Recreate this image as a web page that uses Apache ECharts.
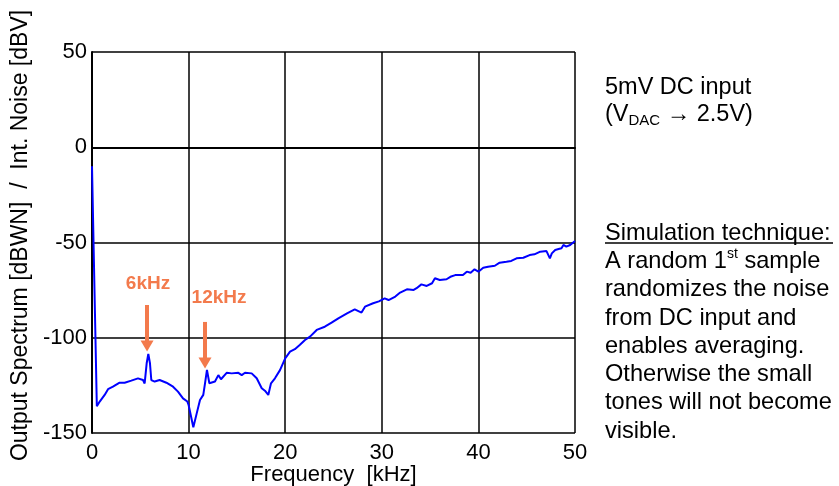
<!DOCTYPE html>
<html>
<head>
<meta charset="utf-8">
<script src="https://cdn.jsdelivr.net/npm/echarts@6/dist/echarts.min.js"></script>
<style>html,body{margin:0;padding:0;background:#fff}#c{width:839px;height:486px}</style>
</head>
<body>
<div id="c"></div>
<script>
// Frequency (kHz) and output level (dB)
var freqKHz = [0, 0.5, 0.8, 1.31, 1.66, 2.17, 2.86, 3.38, 4.07, 4.76, 5.28, 5.45, 5.66, 5.83, 6.0, 6.14, 6.49, 7.0, 7.7, 8.39,
  8.9, 9.42, 9.87, 10.0, 10.49, 10.84, 11.18, 11.52, 11.7, 11.9, 12.15, 12.73, 13.08, 13.35, 13.94, 14.46, 15.15, 15.5, 15.84, 16.53,
  17.05, 17.57, 17.9, 18.25, 18.53, 18.94, 19.46, 20.0, 20.5, 21.0, 21.5, 22.05, 22.57, 23.26, 24.1, 24.8, 25.5, 26.4, 27.2, 27.9,
  28.26, 29.1, 29.7, 30.3, 30.7, 31.4, 31.9, 32.6, 33.3, 33.6, 34.1, 34.65, 35.2, 35.5, 36.0, 36.7, 37.1, 37.6, 38.4, 38.8,
  39.2, 39.6, 40.0, 40.5, 41.0, 41.7, 42.2, 42.9, 43.4, 43.95, 44.65, 45.3, 45.8, 46.4, 47.05, 47.4, 47.6, 47.95, 48.3, 48.6,
  48.8, 49.1, 49.5, 49.65, 50.0];
var levelDb = [-10, -136, -133.5, -130, -127, -125.7, -123.6, -123.6, -122.5, -121.3, -122.2, -124, -113.4, -108.5, -113.4, -122.2, -123, -122.2, -123.6, -125.7,
  -128.3, -131.8, -133.5, -135.3, -147, -139.7, -132.7, -130, -123.9, -116.9, -123.9, -123, -119.6, -121.8, -118.4, -118.7, -118.4, -119.6, -118.4, -118.7,
  -121.3, -126.5, -127.8, -130, -123.9, -121.3, -117, -110.8, -107.3, -106, -103.8, -101.2, -99.4, -95.9, -94.2, -92.1, -89.8, -87.2, -85.1, -86.8,
  -83.7, -81.9, -80.9, -79.3, -80.2, -78.4, -76.3, -74.6, -74.9, -74, -72, -72.8, -71.4, -68.8, -69.7, -69.3, -68, -67.1, -67.1, -65.3,
  -65.9, -64.1, -65.3, -63.2, -62.7, -62.2, -60.6, -60.1, -59.7, -58.3, -58, -56.6, -56.2, -54.8, -54.5, -58.3, -55.7, -53.9, -53.4, -53,
  -51.3, -52.2, -51.3, -50.4, -49.2];

// Tone annotations
var toneLabels = ['6kHz', '12kHz'];
var toneFreq = [5.7, 11.7];
var arrowTop = [-82.8, -91.7];
var arrowTip = [-104.3, -113.3];
var labelPos = [[5.8, -71.8], [13.15, -79.1]];

var ORANGE = '#F37A4C';
var FONT = '"Liberation Sans", Arial, sans-serif';

var chart = echarts.init(document.getElementById('c'));
var lineData = freqKHz.map(function (f, i) { return [f, levelDb[i]]; });

var arrowLines = toneFreq.map(function (f, i) {
  return [{ coord: [f, arrowTop[i]] }, { coord: [f, arrowTip[i]] }];
});
var toneMarks = toneLabels.map(function (t, i) {
  return { coord: labelPos[i], value: t };
});

chart.setOption({
  animation: false,
  backgroundColor: '#fff',
  grid: { left: 92, right: 264, top: 52, bottom: 53, containLabel: false, outerBoundsMode: 'none' },
  xAxis: {
    type: 'value', min: 0, max: 50, interval: 10,
    name: 'Frequency  [kHz]', nameLocation: 'middle', nameGap: 31, nameMoveOverlap: false,
    nameTextStyle: { color: '#000', fontSize: 22, fontFamily: FONT },
    axisLine: { show: true, lineStyle: { color: '#000', width: 2 } },
    axisTick: { show: false },
    axisLabel: { color: '#000', fontSize: 22, fontFamily: FONT, margin: 9 },
    splitLine: { show: true, lineStyle: { color: '#000', width: 1.5 } }
  },
  yAxis: {
    type: 'value', min: -150, max: 50, interval: 50,
    name: 'Output Spectrum [dBWN]  /  Int. Noise [dBV]', nameLocation: 'middle', nameGap: 60, nameMoveOverlap: false,
    nameTextStyle: { color: '#000', fontSize: 23, fontFamily: FONT, padding: [0, 0, 0, 14] },
    axisLine: { show: true, lineStyle: { color: '#000', width: 2 } },
    axisTick: { show: false },
    axisLabel: { color: '#000', fontSize: 22, fontFamily: FONT, margin: 5 },
    splitLine: { show: true, lineStyle: { color: '#000', width: 1.5 } }
  },
  series: [{
    type: 'line',
    data: lineData,
    showSymbol: false,
    symbol: 'none',
    lineStyle: { color: '#0000FF', width: 2 },
    markLine: {
      silent: true,
      symbol: ['none', 'triangle'],
      symbolSize: [13, 11],
      label: { show: false },
      lineStyle: { color: ORANGE, width: 4, type: 'solid' },
      data: arrowLines
    },
    markPoint: {
      silent: true,
      symbol: 'circle', symbolSize: 0,
      label: {
        show: true, position: 'inside', formatter: '{c}',
        color: ORANGE, fontSize: 19, fontWeight: 'bold', fontFamily: FONT
      },
      data: toneMarks
    }
  }],
  graphic: [
    {
      type: 'text', x: 605, y: 74,
      style: {
        text: '5mV DC input\n({n|V}{sub|DAC}{n| → 2.5V)}',
        font: '23.5px ' + FONT, fill: '#000', lineHeight: 27,
        rich: {
          n: { fontSize: 23.5, fontFamily: FONT, lineHeight: 27, verticalAlign: 'middle' },
          sub: { fontSize: 15, fontFamily: FONT, lineHeight: 15, verticalAlign: 'bottom' }
        }
      }
    },
    {
      type: 'text', x: 605, y: 219,
      style: {
        text: 'Simulation technique:\n{n|A random 1}{sup|st}{n| sample}\nrandomizes the noise\nfrom DC input and\nenables averaging.\nOtherwise the small\ntones will not become\nvisible.',
        font: '23.6px ' + FONT, fill: '#000', lineHeight: 28.3,
        rich: {
          n: { fontSize: 23.6, fontFamily: FONT, lineHeight: 28.3, verticalAlign: 'middle' },
          sup: { fontSize: 14, fontFamily: FONT, lineHeight: 14, verticalAlign: 'top' }
        }
      }
    },
    {
      type: 'line', shape: { x1: 605, y1: 243, x2: 833, y2: 243 },
      style: { stroke: '#000', lineWidth: 1.5 }
    }
  ]
});
</script>
</body>
</html>
